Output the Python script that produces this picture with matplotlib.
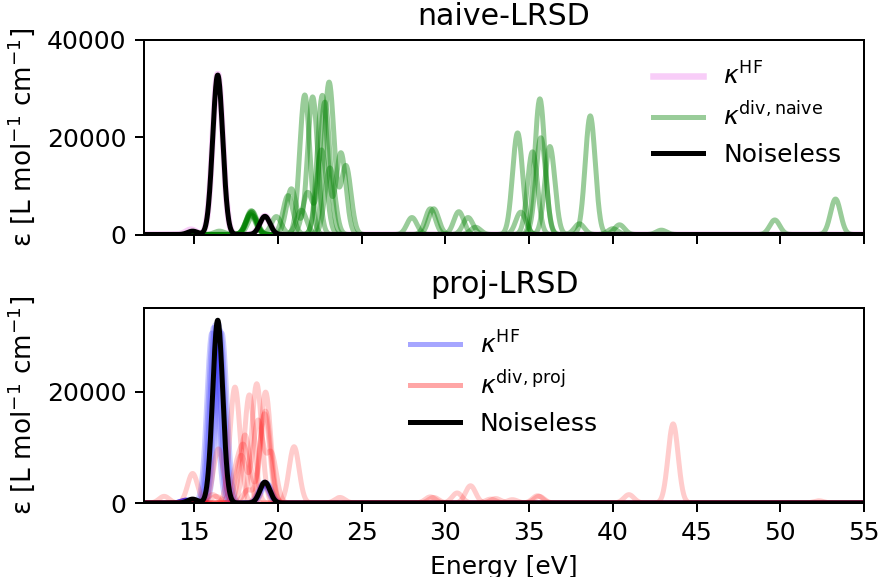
import matplotlib
matplotlib.use('Agg')
import matplotlib.pyplot as plt
import numpy as np

# peak lists (energy [eV], height [L mol^-1 cm^-1])
noiseless_peaks = [(14.9, 700), (16.4, 32800), (19.22, 3750)]
hf_naive_peaks = [(14.8, 1000), (16.4, 33000), (19.22, 3800)]

naive_samples = [
    [(18.4, 4900), (21.6, 28700), (29.1, 5300), (35.64, 27900), (53.3, 7300)],
    [(18.4, 4500), (22.07, 28300), (20.8, 9400), (34.31, 20900), (31.35, 3500), (49.67, 3000)],
    [(18.45, 4800), (22.65, 28600), (23.76, 16800), (38.65, 24400), (40.4, 2000), (28.0, 3500)],
    [(18.35, 4200), (23.05, 31300), (24.06, 14100), (35.2, 17000), (30.8, 4700), (42.9, 900)],
    [(18.4, 4000), (22.8, 27200), (21.77, 8600), (35.7, 19900), (29.3, 5300), (38.0, 2200)],
    [(18.5, 3800), (22.6, 17400), (20.6, 8000), (36.24, 18100), (31.8, 1500), (40.0, 1200)],
    [(18.4, 4600), (23.1, 13700), (21.4, 5000), (19.9, 3700), (34.5, 4600), (16.5, 700)],
]

hf_proj_samples = [
    [(14.5, 500), (16.05, 30500), (19.1, 3500)],
    [(14.5, 500), (16.15, 31500), (19.15, 3500)],
    [(14.6, 500), (16.25, 32000), (19.25, 3700)],
    [(14.5, 500), (16.35, 31800), (19.2, 3400)],
    [(14.5, 500), (16.45, 32200), (19.3, 3600)],
    [(14.5, 500), (16.55, 31000), (19.35, 3500)],
    [(14.5, 500), (16.65, 30500), (19.2, 3800)],
]

proj_samples = [
    [(17.43, 20800), (14.9, 5300), (43.6, 14200), (23.7, 1000)],
    [(18.29, 19400), (16.44, 9700), (31.5, 3100), (13.2, 1200)],
    [(18.73, 21400), (20.96, 10100), (30.7, 1800), (40.96, 1500)],
    [(19.26, 19900), (18.03, 12200), (33.0, 800), (52.3, 400)],
    [(19.25, 16500), (16.1, 1500), (29.1, 1100), (35.5, 1300)],
    [(19.2, 16000), (18.2, 2300), (29.3, 1000), (35.6, 1200)],
    [(18.8, 14600), (17.8, 8500), (19.6, 8800), (32.7, 700)],
    [(17.5, 5000), (18.0, 9000), (34.0, 600), (16.3, 1200)],
]

sigma = 0.3
energy = np.linspace(12, 55, 2000)


def broaden(peaks):
    spec = np.zeros_like(energy)
    for e0, h in peaks:
        spec += h * np.exp(-0.5 * ((energy - e0) / sigma) ** 2)
    return spec


fig, (ax1, ax2) = plt.subplots(2, 1, sharex=True, figsize=(881 / 180, 577 / 180), dpi=180)
plt.subplots_adjust(left=0.1635, right=0.9807, top=0.9307, bottom=0.1282, hspace=0.38)

# naive
ax1.plot(energy, broaden(hf_naive_peaks), color='violet', alpha=0.4, lw=2.6, label=r'$\kappa^{\rm HF}$')
for i, s in enumerate(naive_samples):
    ax1.plot(energy, broaden(s), color='green', alpha=0.4, lw=2,
             label=r'$\kappa^{\rm div,naive}$' if i == 0 else None)
ax1.plot(energy, broaden(noiseless_peaks), color='black', lw=2, label='Noiseless')
ax1.set_ylim(0, 40000)
ax1.set_yticks([0, 20000, 40000])
ax1.set_title('naive-LRSD')
ax1.set_ylabel('ε [L mol$^{-1}$ cm$^{-1}$]', fontsize=10.5)
ax1.legend(loc='upper right', frameon=False)

# proj
for i, s in enumerate(hf_proj_samples):
    ax2.plot(energy, broaden(s), color='blue', alpha=0.2, lw=2,
             label=r'$\kappa^{\rm HF}$' if i == 0 else None)
for i, s in enumerate(proj_samples):
    ax2.plot(energy, broaden(s), color='red', alpha=0.2, lw=2,
             label=r'$\kappa^{\rm div,proj}$' if i == 0 else None)
ax2.plot(energy, broaden(noiseless_peaks), color='black', lw=2, label='Noiseless')
ax2.set_ylim(0, 34900)
ax2.set_yticks([0, 20000])
ax2.set_title('proj-LRSD')
ax2.set_ylabel('ε [L mol$^{-1}$ cm$^{-1}$]', fontsize=10.5)
ax2.set_xlabel('Energy [eV]')
ax2.set_xlim(12, 55)
ax2.set_xticks([15, 20, 25, 30, 35, 40, 45, 50, 55])
leg = ax2.legend(loc='upper center', frameon=False)
for lh in leg.get_lines()[:2]:
    lh.set_alpha(0.35)

plt.savefig('out.png', dpi=180)
